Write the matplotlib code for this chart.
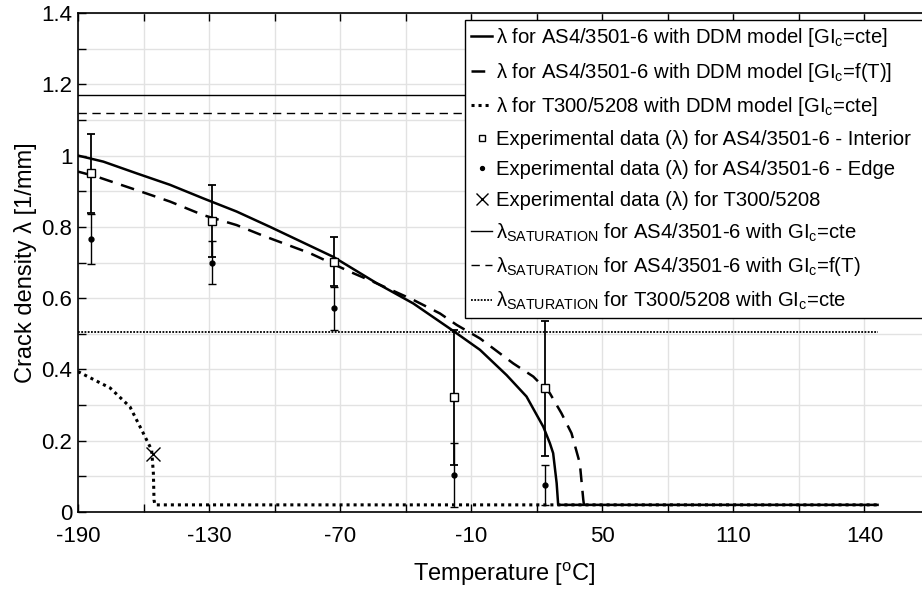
import matplotlib
matplotlib.use("Agg")
import matplotlib.pyplot as plt

plt.rcParams['font.family'] = ['Liberation Sans', 'DejaVu Sans']
plt.rcParams['mathtext.default'] = 'regular'

# ---------------- data ----------------
# AS4/3501-6, DDM model, GIc = cte
t_as4_cte = [-190, -178.4, -163.1, -147.9, -132.7, -117.4, -102.1, -73.2, -53.3, -36.5,
             -18.2, -6, 6.2, 15.3, 23, 26, 27.5, 29.1, 29.8, 176]
l_as4_cte = [1.000, 0.983, 0.950, 0.918, 0.880, 0.843, 0.800, 0.716, 0.642, 0.585,
             0.508, 0.455, 0.384, 0.324, 0.239, 0.193, 0.165, 0.081, 0.02, 0.02]

# AS4/3501-6, DDM model, GIc = f(T)
t_as4_fT = [-190, -181.5, -163.1, -147.9, -132.7, -117.4, -105.2, -83.8, -65.5, -54.9,
            -36.5, -24.3, -16.7, -6, 9.2, 18.4, 26, 31.3, 35.9, 39.7, 41.3, 41.6]
l_as4_fT = [0.955, 0.941, 0.903, 0.871, 0.833, 0.805, 0.775, 0.726, 0.674, 0.646,
            0.595, 0.557, 0.525, 0.487, 0.417, 0.380, 0.333, 0.277, 0.221, 0.137, 0.034, 0.02]

# T300/5208, DDM model, GIc = cte
t_t300 = [-190, -175.3, -166.2, -160.1, -156.3, -155.5, -155.2, -154.8, 176]
l_t300 = [0.394, 0.348, 0.295, 0.221, 0.174, 0.109, 0.034, 0.02, 0.02]

# Experimental data AS4/3501-6
t_exp = [-184.2, -128.8, -72.7, -17.9, 23.7]
l_int = [0.950, 0.816, 0.702, 0.322, 0.347]
e_int = [0.111, 0.101, 0.069, 0.190, 0.190]
l_edge = [0.765, 0.700, 0.571, 0.104, 0.076]
e_edge = [0.070, 0.059, 0.060, 0.090, 0.055]

# Experimental data T300/5208
t_exp_t300 = [-155.6]
l_exp_t300 = [0.163]

# Saturation levels
t_sat = [-190, 176]
sat_as4_cte = 1.170
sat_as4_fT = 1.119
sat_t300 = 0.506

xtick_pos = [-190, -130, -70, -10, 50, 110, 170]
xtick_lab = ['-190', '-130', '-70', '-10', '50', '110', '140']
ytick_pos = [0, 0.2, 0.4, 0.6, 0.8, 1.0, 1.2, 1.4]
ytick_lab = ['0', '0.2', '0.4', '0.6', '0.8', '1', '1.2', '1.4']

labels = [
    'λ for AS4/3501-6 with DDM model [GI$_c$=cte]',
    'λ for AS4/3501-6 with DDM model [GI$_c$=f(T)]',
    'λ for T300/5208 with DDM model [GI$_c$=cte]',
    'Experimental data (λ) for AS4/3501-6 - Interior',
    'Experimental data (λ) for AS4/3501-6 - Edge',
    'Experimental data (λ) for T300/5208',
    'λ$_{SATURATION}$ for AS4/3501-6 with GI$_c$=cte',
    'λ$_{SATURATION}$ for AS4/3501-6 with GI$_c$=f(T)',
    'λ$_{SATURATION}$ for T300/5208 with GI$_c$=cte',
]

# ---------------- figure ----------------
fig = plt.figure(figsize=(9.22, 5.91), dpi=100)
ax = fig.add_axes([78/922, 79/591, 852/922, 499/591])

K = 'black'
thick = 1.8
thin = 1.0
ls_dash_thick = (0, (5.5, 3.5))
ls_dot_thick = (0, (1.0, 1.3))
ls_dash_thin = (0, (6, 4))
ls_dot_thin = (0, (1.0, 0.8))

h1, = ax.plot(t_as4_cte, l_as4_cte, color=K, lw=thick, zorder=4)
h2, = ax.plot(t_as4_fT, l_as4_fT, color=K, lw=thick, ls=ls_dash_thick, zorder=4)
h3, = ax.plot(t_t300, l_t300, color=K, lw=2.2, ls=ls_dot_thick, zorder=3)

h7, = ax.plot(t_sat, [sat_as4_cte] * 2, color=K, lw=thin, zorder=3)
h8, = ax.plot(t_sat, [sat_as4_fT] * 2, color=K, lw=thin, ls=ls_dash_thin, zorder=3)
h9, = ax.plot(t_sat, [sat_t300] * 2, color=K, lw=1.3, ls=ls_dot_thin, zorder=3)

ax.errorbar(t_exp, l_int, yerr=e_int, fmt='none', ecolor=K, elinewidth=1.3,
            capsize=3, capthick=1.3, zorder=5)
ax.errorbar(t_exp, l_edge, yerr=e_edge, fmt='none', ecolor=K, elinewidth=1.0,
            capsize=3, capthick=1.0, zorder=5)
h4, = ax.plot(t_exp, l_int, ls='none', marker='s', ms=5.5, mfc='white', mec=K, mew=1.0, zorder=6)
h5, = ax.plot(t_exp, l_edge, ls='none', marker='o', ms=3.5, mfc=K, mec=K, zorder=6)
h6, = ax.plot(t_exp_t300, l_exp_t300, ls='none', marker='x', ms=10, mec=K, mew=1.0, zorder=6)

ax.set_xlim(-190, 200)
ax.set_ylim(0, 1.4)
ax.set_xticks(xtick_pos)
ax.set_xticklabels(xtick_lab)
ax.set_xticks([-160, -100, -40, 20, 80, 140, 200], minor=True)
ax.set_yticks(ytick_pos)
ax.set_yticklabels(ytick_lab)
ax.set_yticks([0.1, 0.3, 0.5, 0.7, 0.9, 1.1, 1.3], minor=True)
ax.tick_params(which='both', direction='in', length=6, width=1.0, top=True, right=True,
               labelsize=16, color=K)
ax.tick_params(axis='x', which='major', pad=10)
ax.tick_params(axis='y', which='major', pad=4)
ax.grid(True, which='both', color='#e2e2e2', lw=1.0)
ax.set_axisbelow(True)
for s in ax.spines.values():
    s.set_linewidth(1.2)

ax.set_ylabel('Crack density λ [1/mm]', fontsize=17, labelpad=3)
ax.set_xlabel('Temperature [$^{o}$C]', fontsize=17, labelpad=10)

handles = [h1, h2, h3, h4, h5, h6, h7, h8, h9]
x0 = (465 - 78) / 852
y_top = (512 - 20) / 499
w = (935 - 465) / 852
leg = ax.legend(handles, labels, loc='upper left', bbox_to_anchor=(x0, y_top, w, 0),
                mode='expand', borderaxespad=0, fontsize=14.6, frameon=True, fancybox=False,
                framealpha=1, edgecolor=K, handlelength=1.05, handletextpad=0.2, borderpad=0.3,
                labelspacing=0.57, markerscale=0.8)
leg.get_frame().set_linewidth(1.0)
leg.set_zorder(10)

fig.savefig('out.png', dpi=100)
